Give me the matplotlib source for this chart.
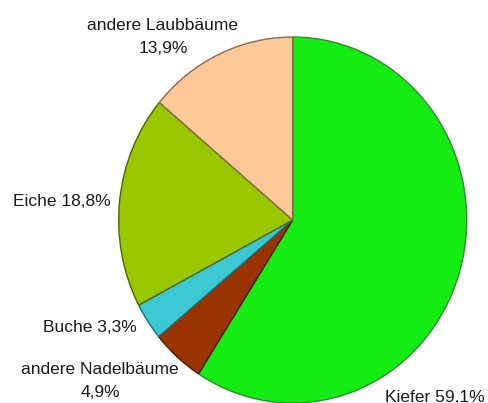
import matplotlib
matplotlib.use("Agg")
from matplotlib import pyplot as plt

# Anteile der Baumarten (im Uhrzeigersinn ab 12 Uhr)
species = ["Kiefer", "andere Nadelbäume", "Buche", "Eiche", "andere Laubbäume"]
shares = [59.1, 4.9, 3.3, 18.8, 13.9]
share_labels = ["Kiefer 59,1%", "andere Nadelbäume\n4,9%", "Buche 3,3%",
                "Eiche 18,8%", "andere Laubbäume\n13,9%"]
colors = ["#14EC14", "#993300", "#3CC8D2", "#99C800", "#FBC897"]
edges = ["#2E8B2E", "#4A1A00", "#1F6E74", "#4E6600", "#8A6A4A"]

# label placement in figure pixels (x centre, y centre from top)
label_pos = [(435, 397), (100, 381), (90, 328), (62, 202), (163, 37)]

W, H = 489, 403
fig = plt.figure(figsize=(W / 100, H / 100), dpi=100)
fig.patch.set_facecolor("white")

cx, cy, rx, ry = 292.7, 220, 174, 183
ax = fig.add_axes([(cx - rx) / W, 1 - (cy + ry) / H, 2 * rx / W, 2 * ry / H])

wedges, _ = ax.pie(shares, colors=colors, startangle=90, counterclock=False,
                   wedgeprops=dict(linewidth=1.0))
for w, ec in zip(wedges, edges):
    w.set_edgecolor(ec)
    w.set_clip_on(False)

ax.set_aspect("auto")
ax.set_xlim(-1, 1)
ax.set_ylim(-1, 1)
ax.axis("off")

for text, (px, py) in zip(share_labels, label_pos):
    fig.text(px / W, 1 - py / H, text, ha="center", va="center",
             fontsize=12.5, family="Liberation Sans", color="#1a1a1a",
             linespacing=1.6)

fig.savefig("out.png", dpi=100)
